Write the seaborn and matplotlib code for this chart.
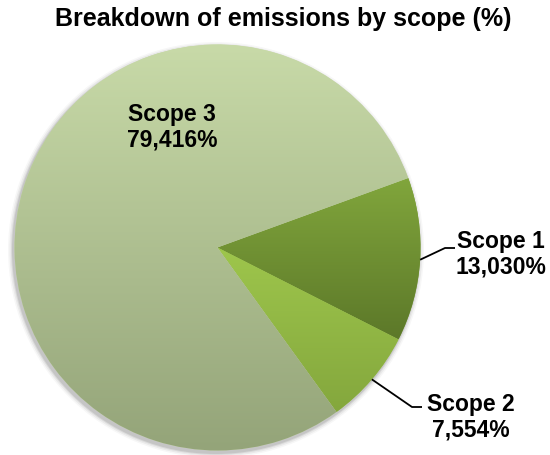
import numpy as np
import matplotlib
matplotlib.use("Agg")
import matplotlib.pyplot as plt
from matplotlib.patches import Circle
import seaborn as sns

# Emission shares by scope (%)
scopes = ["Scope 1", "Scope 2", "Scope 3"]
shares = [13.030, 7.554, 79.416]
value_labels = ["13,030%", "7,554%", "79,416%"]

# Vertical gradient (top colour, bottom colour) for each slice
slice_tops = ["#81a63c", "#9ec64c", "#c8daa8"]
slice_bottoms = ["#5c7829", "#84a73d", "#94a479"]

sns.set_theme(style="white")
plt.rcParams["font.family"] = ["Liberation Sans", "DejaVu Sans"]

W, H = 550, 455
fig = plt.figure(figsize=(W / 100, H / 100), dpi=100)
ax = fig.add_axes([0, 0, 1, 1])
ax.set_xlim(0, W)
ax.set_ylim(0, H)
ax.set_aspect("equal")
ax.axis("off")

cx, cy, r = 217.5, H - 247.5, 203.0

# soft drop shadow under the pie
for dr, a in [(5, 0.03), (3.5, 0.05), (2, 0.07), (1, 0.09)]:
    ax.add_patch(Circle((cx - 1.5, cy - 2.5), r + dr, color="#000000", alpha=a,
                        lw=0, zorder=1))

wedges, _ = ax.pie(shares, startangle=20, counterclock=False, center=(cx, cy),
                   radius=r, colors=slice_tops, frame=True,
                   wedgeprops=dict(linewidth=0, zorder=2))
ax.set_xlim(0, W)
ax.set_ylim(0, H)
ax.axis("off")

# gradient fill clipped to each wedge
for w, top, bot in zip(wedges, slice_tops, slice_bottoms):
    path = w.get_path().transformed(w.get_patch_transform())
    verts = path.vertices
    y0, y1 = verts[:, 1].min(), verts[:, 1].max()
    x0, x1 = verts[:, 0].min(), verts[:, 0].max()
    cols = np.array(sns.blend_palette([top, bot], n_colors=256))
    img = cols[:, None, :]
    im = ax.imshow(img, extent=(x0, x1, y0, y1), origin="upper",
                   aspect="auto", zorder=3, interpolation="bilinear")
    im.set_clip_path(w)

lab_kw = dict(fontsize=16.5, fontweight="bold", color="black",
              ha="center", va="center", zorder=5, linespacing=1.15)

# leader lines start at the wedge mid-angle on the rim
label_px = {0: (501, 254), 1: (471, 417)}
elbows = {0: ((445, 248), (455, 248)), 1: ((412, 407), (422, 407))}
for i, w in enumerate(wedges):
    mid = np.deg2rad((w.theta1 + w.theta2) / 2)
    if i in label_px:
        sx, sy = cx + r * np.cos(mid), cy + r * np.sin(mid)
        (ex, ey), (hx, hy) = elbows[i]
        ax.plot([sx, ex, hx], [sy, H - ey, H - hy], color="black", lw=1.3,
                zorder=5, solid_capstyle="butt")
        lx, ly = label_px[i]
        ax.text(lx, H - ly, f"{scopes[i]}\n{value_labels[i]}", **lab_kw)
    else:
        ax.text(172, H - 127, f"{scopes[i]}\n{value_labels[i]}", **lab_kw)

ax.text(283.5, H - 19, "Breakdown of emissions by scope (%)",
        fontsize=18, fontweight="bold", color="black", ha="center", va="center")

fig.savefig("out.png", dpi=100)
